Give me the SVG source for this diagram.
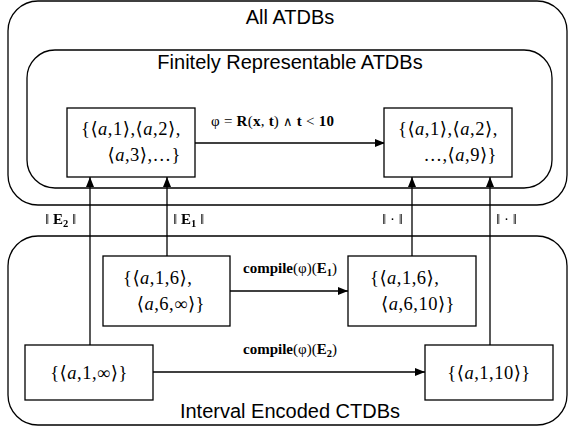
<svg xmlns="http://www.w3.org/2000/svg" width="568" height="432" viewBox="0 0 568 432">
<style>
.cont{fill:none;stroke:#000;stroke-width:1.3}
.box{fill:#fff;stroke:#000;stroke-width:1.3}
.title{font-family:"Liberation Sans",Arial,sans-serif;font-size:20px;fill:#000;text-anchor:middle}
.m{font-family:"Liberation Serif","DejaVu Serif",serif;font-size:18.5px;fill:#000;letter-spacing:0.5px}
.lb{font-family:"Liberation Serif","DejaVu Serif",serif;font-size:15px;fill:#000}
.b{font-weight:bold}
.i{font-style:italic}
.s{font-size:10.5px}
.op{font-family:"DejaVu Serif","DejaVu Sans",serif;font-weight:normal;font-size:13px}
.edge{fill:none;stroke:#000;stroke-width:1.3}
</style>
<defs>
<marker id="arr" viewBox="0 0 10 8" refX="10" refY="4" markerWidth="10" markerHeight="8" markerUnits="userSpaceOnUse" orient="auto">
<path d="M0,0 L10,4 L0,8 Z" fill="#000"/>
</marker>
<filter id="gray" x="0" y="0" width="1" height="1"><feOffset dx="0" dy="0"/></filter>
</defs>
<g id="all-atdbs">
<rect class="cont" x="8" y="1" width="559" height="204" rx="30"/>
<text class="title" x="290" y="24">All ATDBs</text>
</g>
<g id="finite-atdbs">
<rect class="cont" x="27" y="50" width="525" height="138" rx="28"/>
<text class="title" x="290" y="69">Finitely Representable ATDBs</text>
</g>
<g id="interval-ctdbs">
<rect class="cont" x="8" y="236" width="559" height="189" rx="30"/>
<text class="title" x="290" y="418">Interval Encoded CTDBs</text>
</g>
<g id="connectors">
<path class="edge" d="M195,143 L385,143" marker-end="url(#arr)"/>
<path class="edge" d="M230,291 L348,291" marker-end="url(#arr)"/>
<path class="edge" d="M153,372 L425,372" marker-end="url(#arr)"/>
<path class="edge" d="M90,345 L90,177" marker-end="url(#arr)"/>
<path class="edge" d="M167,256 L167,177" marker-end="url(#arr)"/>
<path class="edge" d="M412,256 L412,177" marker-end="url(#arr)"/>
<path class="edge" d="M490,345 L490,177" marker-end="url(#arr)"/>
<text class="lb" x="211" y="126" textLength="123">φ = <tspan class="b">R</tspan>(<tspan class="b">x</tspan>, <tspan class="b">t</tspan>) <tspan class="op">∧</tspan> <tspan class="b">t</tspan> &lt; <tspan class="b">10</tspan></text>
<text class="lb" x="290" y="273" text-anchor="middle"><tspan class="b">compile</tspan>(φ)(<tspan class="b">E<tspan class="s" dy="3">1</tspan></tspan><tspan dy="-3">)</tspan></text>
<text class="lb" x="290" y="354" text-anchor="middle"><tspan class="b">compile</tspan>(φ)(<tspan class="b">E<tspan class="s" dy="3">2</tspan></tspan><tspan dy="-3">)</tspan></text>
<g filter="url(#gray)">
<text class="lb" x="45" y="224">‖ <tspan class="b">E<tspan class="s" dy="3">2</tspan></tspan><tspan dy="-3"> ‖</tspan></text>
<text class="lb" x="173" y="224">‖ <tspan class="b">E<tspan class="s" dy="3">1</tspan></tspan><tspan dy="-3"> ‖</tspan></text>
<text class="lb" x="382" y="224">‖ · ‖</text>
<text class="lb" x="496" y="224">‖ · ‖</text>
</g>
</g>
<g id="node-a">
<rect class="box" x="67" y="108" width="128" height="69"/>
<text class="m" x="81" y="135">{⟨<tspan class="i">a</tspan>,1⟩,⟨<tspan class="i">a</tspan>,2⟩,</text>
<text class="m" x="181" y="161" text-anchor="end">⟨<tspan class="i">a</tspan>,3⟩,…}</text>
</g>
<g id="node-b">
<rect class="box" x="384" y="108" width="128" height="69"/>
<text class="m" x="398" y="135">{⟨<tspan class="i">a</tspan>,1⟩,⟨<tspan class="i">a</tspan>,2⟩,</text>
<text class="m" x="497" y="161" text-anchor="end">…,⟨<tspan class="i">a</tspan>,9⟩}</text>
</g>
<g id="node-c">
<rect class="box" x="103" y="256" width="127" height="70"/>
<text class="m" x="123" y="284">{⟨<tspan class="i">a</tspan>,1,6⟩,</text>
<text class="m" x="205" y="310" text-anchor="end">⟨<tspan class="i">a</tspan>,6,∞⟩}</text>
</g>
<g id="node-d">
<rect class="box" x="348" y="256" width="128" height="70"/>
<text class="m" x="370" y="284">{⟨<tspan class="i">a</tspan>,1,6⟩,</text>
<text class="m" x="455" y="310" text-anchor="end">⟨<tspan class="i">a</tspan>,6,10⟩}</text>
</g>
<g id="node-e">
<rect class="box" x="25" y="345" width="128" height="55"/>
<text class="m" x="89" y="379" text-anchor="middle">{⟨<tspan class="i">a</tspan>,1,∞⟩}</text>
</g>
<g id="node-f">
<rect class="box" x="425" y="345" width="128" height="55"/>
<text class="m" x="489" y="379" text-anchor="middle">{⟨<tspan class="i">a</tspan>,1,10⟩}</text>
</g>
</svg>
